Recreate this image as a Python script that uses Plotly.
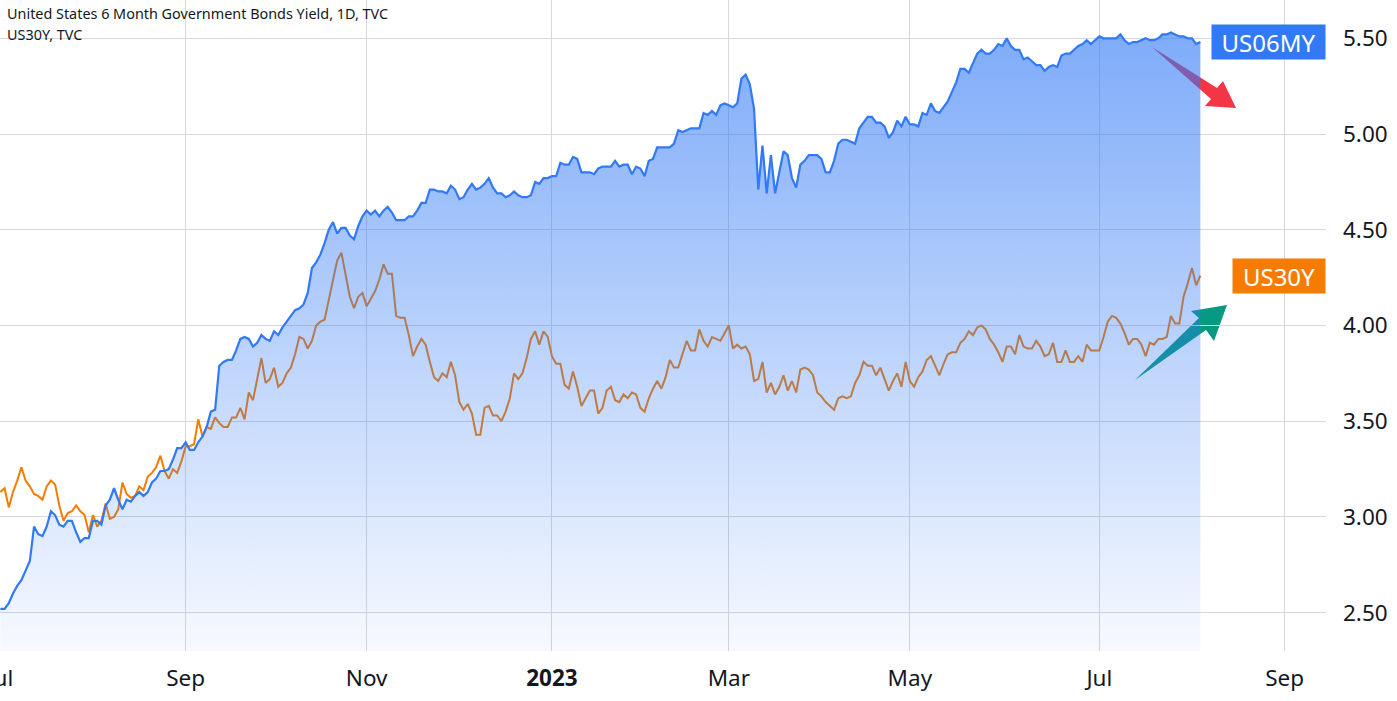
import pandas as pd
import plotly.graph_objects as go

# ---------------- data ----------------
us06my = [
    2.52, 2.52, 2.55, 2.60, 2.64, 2.67, 2.72, 2.77, 2.95, 2.91,
    2.90, 2.95, 3.03, 3.01, 2.96, 2.95, 2.98, 2.98, 2.92, 2.87,
    2.89, 2.89, 2.98, 2.98, 2.96, 3.06, 3.09, 3.15, 3.09, 3.04,
    3.09, 3.08, 3.11, 3.13, 3.11, 3.13, 3.18, 3.20, 3.24, 3.24,
    3.25, 3.30, 3.36, 3.36, 3.39, 3.35, 3.35, 3.39, 3.42, 3.47,
    3.55, 3.56, 3.79, 3.81, 3.82, 3.82, 3.87, 3.93, 3.94, 3.93,
    3.89, 3.91, 3.95, 3.93, 3.92, 3.97, 3.95, 3.99, 4.02, 4.05,
    4.08, 4.09, 4.11, 4.17, 4.30, 4.33, 4.37, 4.43, 4.50, 4.54,
    4.48, 4.51, 4.51, 4.47, 4.45, 4.52, 4.57, 4.60, 4.58, 4.60,
    4.57, 4.60, 4.62, 4.59, 4.55, 4.55, 4.55, 4.57, 4.57, 4.60,
    4.64, 4.64, 4.71, 4.71, 4.70, 4.70, 4.69, 4.73, 4.71, 4.66,
    4.67, 4.71, 4.74, 4.71, 4.72, 4.74, 4.77, 4.72, 4.69, 4.69,
    4.67, 4.68, 4.70, 4.68, 4.67, 4.67, 4.68, 4.75, 4.74, 4.77,
    4.77, 4.78, 4.78, 4.85, 4.84, 4.84, 4.88, 4.87, 4.80, 4.80,
    4.80, 4.79, 4.82, 4.83, 4.83, 4.83, 4.86, 4.83, 4.84, 4.84,
    4.79, 4.83, 4.82, 4.78, 4.86, 4.87, 4.93, 4.93, 4.93, 4.93,
    4.95, 5.02, 5.01, 5.02, 5.03, 5.03, 5.03, 5.11, 5.10, 5.12,
    5.10, 5.15, 5.16, 5.15, 5.14, 5.16, 5.29, 5.31, 5.26, 5.13,
    4.71, 4.94, 4.69, 4.89, 4.69, 4.80, 4.91, 4.89, 4.77, 4.72,
    4.84, 4.86, 4.89, 4.89, 4.89, 4.87, 4.80, 4.80, 4.86, 4.95,
    4.97, 4.97, 4.96, 4.95, 5.03, 5.06, 5.09, 5.09, 5.06, 5.06,
    5.04, 4.98, 5.01, 5.07, 5.04, 5.09, 5.05, 5.05, 5.04, 5.11,
    5.10, 5.16, 5.12, 5.11, 5.14, 5.17, 5.22, 5.27, 5.34, 5.34,
    5.32, 5.37, 5.42, 5.44, 5.42, 5.42, 5.44, 5.47, 5.46, 5.50,
    5.46, 5.44, 5.44, 5.39, 5.40, 5.38, 5.36, 5.36, 5.33, 5.35,
    5.36, 5.35, 5.41, 5.42, 5.42, 5.44, 5.46, 5.47, 5.49, 5.47,
    5.49, 5.51, 5.50, 5.50, 5.50, 5.50, 5.52, 5.49, 5.47, 5.48,
    5.48, 5.49, 5.50, 5.49, 5.49, 5.50, 5.52, 5.52, 5.53, 5.52,
    5.51, 5.51, 5.50, 5.50, 5.47, 5.48,
]

us30y = [
    3.13, 3.15, 3.05, 3.13, 3.19, 3.26, 3.19, 3.16, 3.12, 3.11,
    3.09, 3.16, 3.19, 3.17, 3.06, 2.98, 3.02, 3.03, 3.06, 3.03,
    3.01, 2.92, 3.01, 2.95, 2.98, 3.07, 2.99, 3.00, 3.04, 3.18,
    3.12, 3.10, 3.11, 3.16, 3.14, 3.21, 3.23, 3.26, 3.32, 3.24,
    3.20, 3.25, 3.23, 3.29, 3.37, 3.37, 3.38, 3.51, 3.42, 3.47,
    3.46, 3.52, 3.49, 3.47, 3.47, 3.52, 3.52, 3.57, 3.51, 3.65,
    3.61, 3.72, 3.83, 3.70, 3.72, 3.78, 3.68, 3.70, 3.75, 3.78,
    3.85, 3.94, 3.93, 3.88, 3.92, 4.00, 4.02, 4.03, 4.13, 4.24,
    4.34, 4.38, 4.26, 4.15, 4.09, 4.15, 4.17, 4.10, 4.14, 4.18,
    4.24, 4.32, 4.27, 4.27, 4.05, 4.04, 4.04, 3.95, 3.84, 3.89,
    3.93, 3.90, 3.81, 3.73, 3.71, 3.75, 3.73, 3.81, 3.74, 3.60,
    3.56, 3.59, 3.54, 3.43, 3.43, 3.57, 3.58, 3.53, 3.53, 3.50,
    3.55, 3.62, 3.75, 3.72, 3.75, 3.83, 3.93, 3.97, 3.90, 3.97,
    3.94, 3.84, 3.80, 3.80, 3.69, 3.67, 3.76, 3.68, 3.58, 3.62,
    3.66, 3.66, 3.54, 3.57, 3.66, 3.68, 3.61, 3.60, 3.64, 3.62,
    3.65, 3.64, 3.57, 3.55, 3.62, 3.67, 3.71, 3.67, 3.73, 3.82,
    3.78, 3.78, 3.85, 3.92, 3.87, 3.87, 3.98, 3.92, 3.89, 3.94,
    3.93, 3.92, 3.96, 4.00, 3.88, 3.90, 3.88, 3.89, 3.85, 3.71,
    3.72, 3.81, 3.65, 3.70, 3.64, 3.68, 3.74, 3.66, 3.71, 3.65,
    3.77, 3.78, 3.77, 3.74, 3.65, 3.63, 3.60, 3.58, 3.56, 3.62,
    3.63, 3.62, 3.63, 3.70, 3.74, 3.81, 3.79, 3.79, 3.74, 3.78,
    3.72, 3.66, 3.71, 3.75, 3.68, 3.81, 3.71, 3.68, 3.73, 3.76,
    3.82, 3.84, 3.79, 3.74, 3.80, 3.85, 3.86, 3.86, 3.91, 3.93,
    3.97, 3.95, 3.99, 4.00, 3.98, 3.93, 3.90, 3.86, 3.81, 3.89,
    3.89, 3.85, 3.95, 3.89, 3.88, 3.88, 3.92, 3.89, 3.84, 3.85,
    3.91, 3.81, 3.81, 3.87, 3.81, 3.81, 3.84, 3.81, 3.90, 3.87,
    3.87, 3.87, 3.94, 4.02, 4.05, 4.04, 4.01, 3.96, 3.90, 3.93,
    3.93, 3.90, 3.84, 3.91, 3.90, 3.93, 3.93, 3.94, 4.05, 4.01,
    4.01, 4.15, 4.22, 4.30, 4.21, 4.26,
]

start_date = "2022-07-01"
x_tick_vals = ["2022-07-01", "2022-09-01", "2022-11-01", "2023-01-02",
               "2023-03-01", "2023-05-01", "2023-07-03", "2023-09-01"]
x_tick_text = ["Jul", "Sep", "Nov", "<b>2023</b>", "Mar", "May", "Jul", "Sep"]
y_tick_vals = [2.5, 3.0, 3.5, 4.0, 4.5, 5.0, 5.5]
y_tick_text = ["2.50", "3.00", "3.50", "4.00", "4.50", "5.00", "5.50"]

dates = pd.bdate_range(start=start_date, periods=len(us06my))

# ---------------- styling ----------------
W, H = 1397, 701
ML, MR, MT, MB = 0, 71, 0, 50
PW, PH = W - ML - MR, H - MT - MB

BLUE = "#3179F5"
ORANGE = "#F57C00"
TEXT = "#131722"
GRID = "#D6D8DE"
FONT = "Noto Sans"


def px_path(points):
    """Convert plot-area pixel points to a paper-coordinate SVG path."""
    parts = []
    for i, (px, py) in enumerate(points):
        xp = px / PW
        yp = 1 - py / PH
        parts.append(("M" if i == 0 else "L") + f"{xp:.5f},{yp:.5f}")
    return " ".join(parts) + " Z"


red_arrow = [(1152, 47), (1217, 88), (1223, 81), (1236, 108),
             (1205, 106), (1211, 99)]
green_arrow = [(1135, 380), (1199, 318), (1191, 311), (1227, 305),
               (1214, 341), (1206, 330)]

fig = go.Figure()

fig.add_trace(go.Scatter(
    x=dates, y=us30y, mode="lines", name="US30Y",
    line=dict(color=ORANGE, width=2), hoverinfo="skip",
))

fig.add_trace(go.Scatter(
    x=dates, y=us06my, mode="lines", name="US06MY",
    line=dict(color=BLUE, width=2.2),
    fill="tozeroy",
    fillgradient=dict(
        type="vertical",
        colorscale=[[0, "rgba(49,121,245,0.04)"], [1, "rgba(49,121,245,0.62)"]],
        start=2.30, stop=5.50,
    ),
    hoverinfo="skip",
))

shapes = [
    dict(type="path", path=px_path(red_arrow), xref="paper", yref="paper",
         fillcolor="#F23645", line=dict(width=0), layer="between"),
    dict(type="path", path=px_path(green_arrow), xref="paper", yref="paper",
         fillcolor="#089981", line=dict(width=0), layer="between"),
]

annotations = [
    dict(text="United States 6 Month Government Bonds Yield, 1D, TVC",
         xref="paper", yref="paper", x=5 / PW, y=1 - 14 / PH,
         xanchor="left", yanchor="middle", showarrow=False,
         font=dict(family=FONT, size=14.4, color=TEXT)),
    dict(text="US30Y, TVC",
         xref="paper", yref="paper", x=5 / PW, y=1 - 34 / PH,
         xanchor="left", yanchor="middle", showarrow=False,
         font=dict(family=FONT, size=14.4, color=TEXT)),
    dict(text="US06MY", xref="paper", yref="y", x=1, y=us06my[-1],
         xanchor="right", yanchor="middle", showarrow=False,
         bgcolor=BLUE, width=109, height=30, borderpad=2,
         font=dict(family=FONT, size=24, color="white")),
    dict(text="US30Y", xref="paper", yref="y", x=1, y=us30y[-1],
         xanchor="right", yanchor="middle", showarrow=False,
         bgcolor=ORANGE, width=88, height=30, borderpad=2,
         font=dict(family=FONT, size=24, color="white")),
]

fig.update_layout(
    width=W, height=H, autosize=False,
    margin=dict(l=ML, r=MR, t=MT, b=MB, pad=0, autoexpand=False),
    paper_bgcolor="white", plot_bgcolor="white",
    showlegend=False,
    font=dict(family=FONT, color=TEXT),
    shapes=shapes,
    annotations=annotations,
    hovermode=False,
)

fig.update_xaxes(
    type="date",
    range=["2022-06-30 22:00", "2023-09-14 20:00"],
    rangebreaks=[dict(bounds=["sat", "mon"])],
    tickmode="array", tickvals=x_tick_vals, ticktext=x_tick_text,
    showgrid=True, gridcolor=GRID, gridwidth=1,
    showline=False, zeroline=False, ticks="",
    tickfont=dict(family=FONT, size=22.5, color=TEXT),
    ticklabelstandoff=11,
    ticklabeloverflow="allow",
    automargin=False,
)

fig.update_yaxes(
    side="right",
    range=[2.30, 5.70],
    tickmode="array", tickvals=y_tick_vals, ticktext=y_tick_text,
    showgrid=True, gridcolor=GRID, gridwidth=1,
    showline=False, zeroline=False, ticks="",
    tickfont=dict(family=FONT, size=22.5, color=TEXT),
    ticklabelstandoff=16,
    ticklabeloverflow="allow",
    automargin=False,
)

fig.write_html(
    "out.html",
    config={"displayModeBar": False},
    post_script="document.body.style.margin='0';document.body.style.overflow='hidden';",
)
